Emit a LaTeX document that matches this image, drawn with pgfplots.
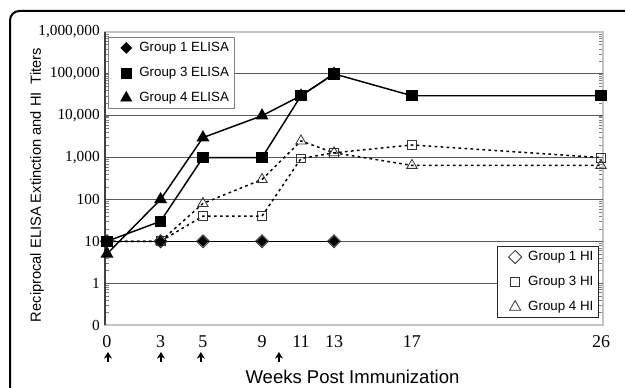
\documentclass[border=0pt]{standalone}
\usepackage{fontspec}
\setmainfont{Liberation Sans}
\newfontfamily\serif{Liberation Serif}
\usepackage{pgfplots}
\pgfplotsset{compat=1.18}
\usetikzlibrary{arrows.meta}
\definecolor{gridc}{HTML}{5A5A5A}
\definecolor{borderc}{HTML}{C4C4C4}
\definecolor{markc}{HTML}{333333}
\tikzset{upar/.style={line width=1pt, -{Stealth[length=5pt,width=6pt]}}}
\begin{document}
\begin{tikzpicture}
\useasboundingbox (0pt,0pt) rectangle (468.75pt,291pt);
\begin{scope}
\clip (0pt,0pt) rectangle (468.75pt,291pt);
\draw[line width=1.5pt, rounded corners=7pt] (7.5pt,282.75pt) rectangle (495pt,-20pt);
\end{scope}
\begin{axis}[at={(78.75pt,47.25pt)}, anchor=south west, scale only axis,
  width=373.5pt, height=219.75pt, xmin=-0.105, xmax=26.105,
  ymode=log, ymin=0.1, ymax=1000000, clip=false,
  legend cell align=left,
  legend image code/.code={\path[draw=none,fill=none] (0pt,0pt) rectangle (19.3pt,0.1pt); \draw[#1] plot coordinates {(13.5pt,0pt)};},
  legend style={fill=white, font=\fontsize{10}{12}\selectfont, inner sep=0pt,
    row sep=2.75pt, nodes={inner xsep=4pt, inner ysep=3pt, text height=7.5pt, text depth=2.5pt},
    at={(0.006,0.983)}, anchor=north west, draw=gray},
  axis line style={draw=borderc, line width=0.8pt},
  major tick length=0pt,
  ytick={0.1,1,10,100,1000,10000,100000,1000000},
  yticklabels={0,1,10,100,{1,000},{10,000},{100,000},{1,000,000}},
  extra y ticks={1,10,100,1000,10000,100000},
  extra y tick labels={},
  extra y tick style={grid=major, major grid style={draw=gridc, line width=0.8pt}},
  yticklabel style={font=\serif\fontsize{11.5}{12}\selectfont, inner sep=0pt, xshift=-3.75pt},
  xtick={0,2.82,5.05,8.16,10.21,11.95,16.05,26},
  xticklabels={0,3,5,9,11,13,17,26},
  xticklabel style={font=\serif\fontsize{13.5}{14}\selectfont, inner sep=0pt, yshift=-7.5pt},
  ylabel={\fontsize{11}{12}\selectfont Reciprocal ELISA Extinction and HI\ \ Titers},
  every axis y label/.style={at={(axis description cs:-0.1365,0.478)}, rotate=90, anchor=center},
  xlabel={\fontsize{13.9}{15}\selectfont Weeks Post Immunization},
  every axis x label/.style={at={(axis description cs:0.497,-0.201)}, anchor=base},
]
% HI series (dotted)
\addplot[forget plot, black, line width=1.1pt, dash pattern=on 2pt off 2.5pt,
  mark=square, mark size=3.5pt, mark options={solid, rotate=45, draw=markc, line width=0.6pt}]
  coordinates {(0,10)(2.82,10)(5.05,10)(8.16,10)(11.95,10)};
\addplot[forget plot, black, line width=1.1pt, dash pattern=on 2pt off 2.5pt,
  mark=square, mark size=3.3pt, mark options={solid, draw=markc, line width=0.6pt}]
  coordinates {(0,10)(2.82,10)(5.05,40)(8.16,40)(10.21,950)(11.95,1300)(16.05,2000)(26,1000)};
\addplot[forget plot, black, line width=1.1pt, dash pattern=on 2pt off 2.5pt,
  mark=triangle, mark size=4.5pt, mark options={solid, draw=markc, line width=0.6pt}]
  coordinates {(0,10)(2.82,10)(5.05,80)(8.16,300)(10.21,2500)(11.95,1300)(16.05,650)(26,650)};
% ELISA series (solid)
\addplot[forget plot, black, line width=1.1pt, mark=square*, mark size=2.4pt, mark options={rotate=45}]
  coordinates {(0,10)(2.82,10)(5.05,10)(8.16,10)(11.95,10)};
\addplot[forget plot, black, line width=1.1pt, mark=triangle*, mark size=4.5pt]
  coordinates {(0,5)(2.82,100)(5.05,3000)(8.16,10000)(10.21,30000)(11.95,100000)};
\addplot[forget plot, black, line width=1.1pt, mark=square*, mark size=3.75pt]
  coordinates {(0,10)(2.82,30)(5.05,1000)(8.16,1000)(10.21,30000)(11.95,100000)(16.05,30000)(26,30000)};
\addlegendimage{only marks, black, mark=square*, mark size=2.9pt, mark options={rotate=45}}
\addlegendentry{Group 1 ELISA}
\addlegendimage{only marks, black, mark=square*, mark size=3.75pt}
\addlegendentry{Group 3 ELISA}
\addlegendimage{only marks, black, mark=triangle*, mark size=4.8pt}
\addlegendentry{Group 4 ELISA}
\draw[black!75, line width=0.9pt] (rel axis cs:0,0) -- (rel axis cs:0,1);
\draw[upar] ([yshift=-27.75pt]axis cs:0.05,0.1) -- ([yshift=-20.25pt]axis cs:0.05,0.1);
\draw[upar] ([yshift=-27.75pt]axis cs:2.84,0.1) -- ([yshift=-20.25pt]axis cs:2.84,0.1);
\draw[upar] ([yshift=-27.75pt]axis cs:4.94,0.1) -- ([yshift=-20.25pt]axis cs:4.94,0.1);
\draw[upar] ([yshift=-27.75pt]axis cs:9.05,0.1) -- ([yshift=-20.25pt]axis cs:9.05,0.1);
\end{axis}
\begin{axis}[at={(78.75pt,47.25pt)}, anchor=south west, scale only axis,
  width=373.5pt, height=219.75pt, xmin=-0.105, xmax=26.105,
  ymode=log, ymin=0.1, ymax=1000000, hide axis,
  legend cell align=left,
  legend image code/.code={\path[draw=none,fill=none] (0pt,0pt) rectangle (19.3pt,0.1pt); \draw[#1] plot coordinates {(13.5pt,0pt)};},
  legend style={fill=white, font=\fontsize{10}{12}\selectfont, inner sep=0pt,
    row sep=2.75pt, nodes={inner xsep=4pt, inner ysep=3pt, text height=7.5pt, text depth=2.5pt},
    at={(0.992,0.024)}, anchor=south east, draw=black!85},
]
\addplot[draw=none, forget plot] coordinates {(1,1)};
\addlegendimage{only marks, mark=square, mark size=3.5pt, mark options={rotate=45, draw=markc, line width=0.6pt}}
\addlegendentry{Group 1 HI}
\addlegendimage{only marks, mark=square, mark size=3.3pt, mark options={draw=markc, line width=0.6pt}}
\addlegendentry{Group 3 HI}
\addlegendimage{only marks, mark=triangle, mark size=4.8pt, mark options={draw=markc, line width=0.6pt}}
\addlegendentry{Group 4 HI}
\end{axis}
\end{tikzpicture}
\end{document}
